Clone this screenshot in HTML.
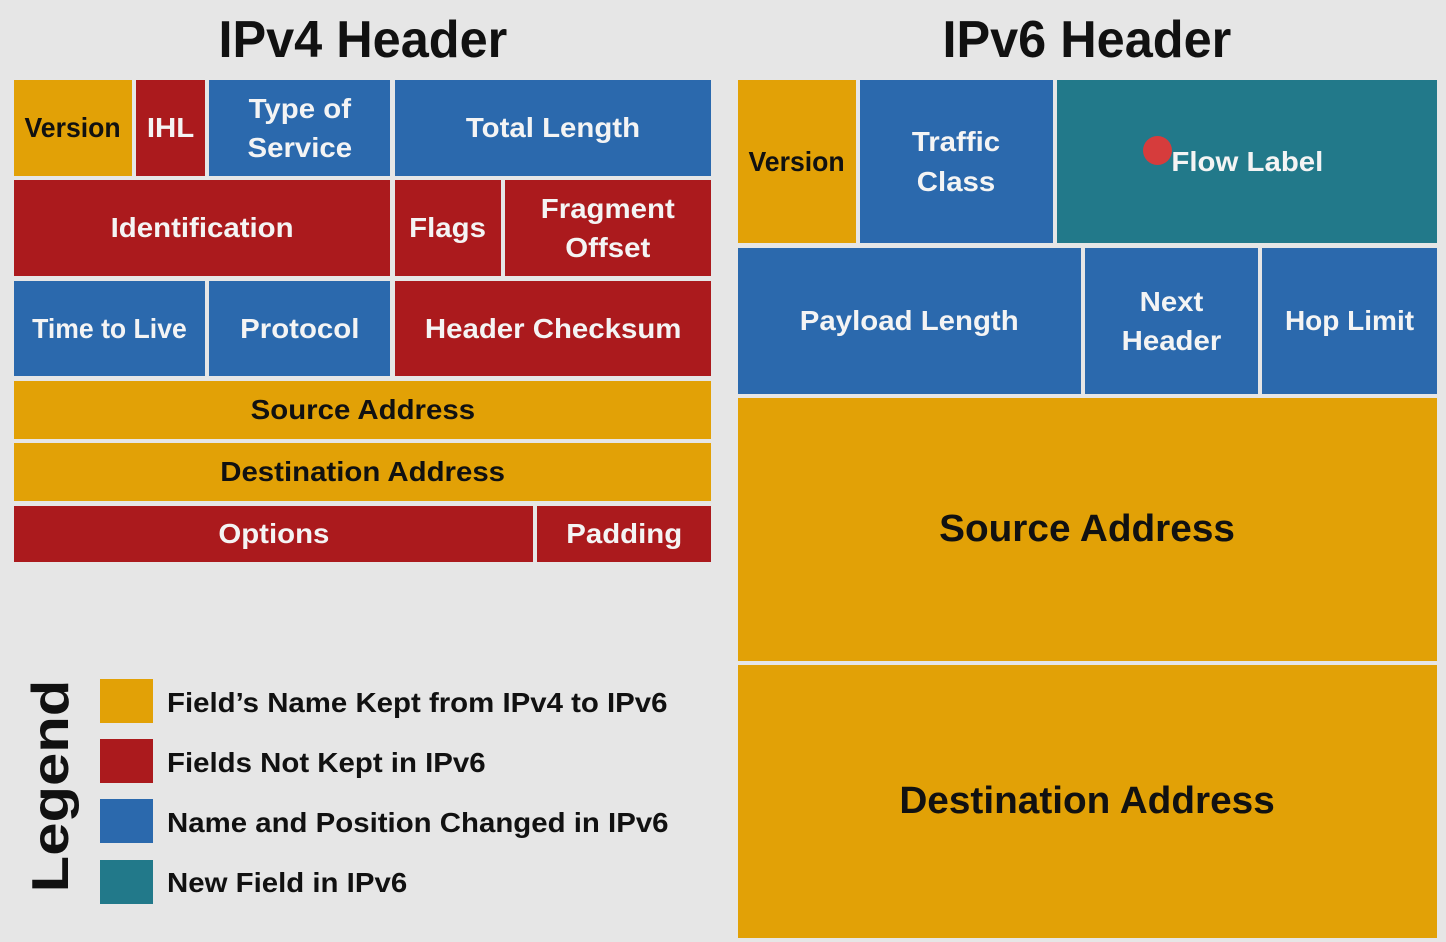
<!DOCTYPE html>
<html><head><style>
body{margin:0;width:1446px;height:942px;background:#e6e6e6;position:relative;overflow:hidden;font-family:"Liberation Sans",sans-serif;font-weight:bold}
.b{position:absolute;display:flex;align-items:center;justify-content:center;text-align:center;color:#f4f4f4;font-size:28px;line-height:1.4}
.b span{display:inline-block;transform:scaleX(1.05);white-space:nowrap}
.y{background:#e2a106;color:#111}.r{background:#ab1a1d}.u{background:#2b69ad}.t{background:#22798a}
.h{position:absolute;top:10px;font-size:52px;color:#111;width:500px;text-align:center}
.h span{display:inline-block;transform:scaleX(0.97)}
.s{position:absolute;left:100px;width:53px;height:44px}
.l{position:absolute;left:167px;font-size:28px;color:#111;transform:scaleX(1.05);transform-origin:left;white-space:nowrap}
</style></head><body>
<div class="h" style="left:113px"><span>IPv4 Header</span></div>
<div class="h" style="left:837px"><span>IPv6 Header</span></div>

<div class="b y" style="left:14px;top:80px;width:118px;height:96px"><span style="transform:scaleX(0.95)">Version</span></div>
<div class="b r" style="left:136px;top:80px;width:69px;height:96px"><span>IHL</span></div>
<div class="b u" style="left:209px;top:80px;width:181px;height:96px"><span>Type of<br>Service</span></div>
<div class="b u" style="left:395px;top:80px;width:316px;height:96px"><span>Total Length</span></div>
<div class="b r" style="left:14px;top:180px;width:376px;height:96px"><span>Identification</span></div>
<div class="b r" style="left:395px;top:180px;width:106px;height:96px"><span>Flags</span></div>
<div class="b r" style="left:505px;top:180px;width:206px;height:96px"><span>Fragment<br>Offset</span></div>
<div class="b u" style="left:14px;top:281px;width:191px;height:95px"><span style="transform:scaleX(0.95)">Time to Live</span></div>
<div class="b u" style="left:209px;top:281px;width:181px;height:95px"><span>Protocol</span></div>
<div class="b r" style="left:395px;top:281px;width:316px;height:95px"><span>Header Checksum</span></div>
<div class="b y" style="left:14px;top:381px;width:697px;height:58px"><span>Source Address</span></div>
<div class="b y" style="left:14px;top:443px;width:697px;height:58px"><span>Destination Address</span></div>
<div class="b r" style="left:14px;top:506px;width:519px;height:56px"><span>Options</span></div>
<div class="b r" style="left:537px;top:506px;width:174px;height:56px"><span>Padding</span></div>

<div class="b y" style="left:738px;top:80px;width:118px;height:163px"><span style="transform:scaleX(0.95)">Version</span></div>
<div class="b u" style="left:860px;top:80px;width:193px;height:163px"><span>Traffic<br>Class</span></div>
<div class="b t" style="left:1057px;top:80px;width:380px;height:163px"><span>Flow Label</span></div>
<div style="position:absolute;left:1143px;top:136px;width:29px;height:29px;border-radius:50%;background:#d63c3c"></div>
<div class="b u" style="left:738px;top:248px;width:343px;height:146px"><span>Payload Length</span></div>
<div class="b u" style="left:1085px;top:248px;width:173px;height:146px"><span>Next<br>Header</span></div>
<div class="b u" style="left:1262px;top:248px;width:175px;height:146px"><span style="transform:scaleX(1)">Hop Limit</span></div>
<div class="b y" style="left:738px;top:398px;width:699px;height:263px;font-size:38px"><span style="transform:scaleX(1.02)">Source Address</span></div>
<div class="b y" style="left:738px;top:665px;width:699px;height:273px;font-size:38px"><span style="transform:scaleX(1.02)">Destination Address</span></div>

<div style="position:absolute;left:51px;top:786px;font-size:52px;color:#111;transform:translate(-50%,-50%) rotate(-90deg) scaleX(1.15);white-space:nowrap">Legend</div>
<div class="s y" style="top:679px"></div>
<div class="s r" style="top:739px"></div>
<div class="s u" style="top:799px"></div>
<div class="s t" style="top:860px"></div>
<div class="l" style="top:687px">Field’s Name Kept from IPv4 to IPv6</div>
<div class="l" style="top:747px">Fields Not Kept in IPv6</div>
<div class="l" style="top:807px">Name and Position Changed in IPv6</div>
<div class="l" style="top:867px">New Field in IPv6</div>
</body></html>
